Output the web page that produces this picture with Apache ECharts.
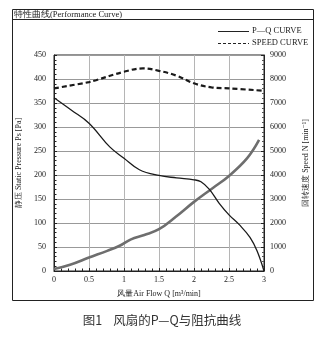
<!DOCTYPE html>
<html><head><meta charset="utf-8">
<script src="https://cdn.jsdelivr.net/npm/echarts@6/dist/echarts.min.js"></script>
<style>html,body{margin:0;padding:0;background:#fff}#c{width:324px;height:337px}</style>
</head><body><div id="c"></div>
<script>
const xTicks = [0, 0.5, 1, 1.5, 2, 2.5, 3];
const pqQ = [0, 0.25, 0.5, 0.8, 1.0, 1.22, 1.5, 1.75, 2.0, 2.1, 2.22, 2.36, 2.5, 2.65, 2.8, 2.9, 3.0];
const pqP = [361, 335, 308, 258, 235, 211, 199, 194, 190, 186, 170, 141, 117, 96, 70, 42, 0];
const speedQ = [0, 0.5, 0.6, 1.0, 1.27, 1.5, 1.75, 2.0, 2.25, 2.5, 3.0];
const speedN = [7610, 7870, 7950, 8300, 8440, 8340, 8140, 7820, 7650, 7610, 7510];
const resQ = [0, 0.23, 0.5, 0.76, 0.93, 1.1, 1.29, 1.5, 1.74, 2.0, 2.26, 2.5, 2.76, 2.93];
const resP = [4, 13, 28, 42, 52, 66, 75, 87, 113, 144, 172, 198, 235, 273];

const pair = (a, b) => a.map((v, i) => [v, b[i]]);
const serif = '"Liberation Serif","DejaVu Serif",serif';
const chart = echarts.init(document.getElementById('c'));
const lab = {color: '#222', fontFamily: serif, fontSize: 8};
chart.setOption({
  animation: false,
  grid: {left: 54, right: 60, top: 55, bottom: 66, show: true, borderColor: '#222', borderWidth: 1},
  xAxis: {
    type: 'value', min: 0, max: 3, interval: 0.5,
    name: '风量Air Flow Q [m³/min]', nameLocation: 'middle', nameGap: 19,
    nameTextStyle: {color: '#222', fontFamily: serif, fontSize: 8},
    axisLine: {lineStyle: {color: '#222'}},
    axisTick: {inside: true, length: 3, lineStyle: {color: '#222'}},
    minorTick: {show: true, splitNumber: 5, length: 2.5, lineStyle: {color: '#222'}},
    axisLabel: Object.assign({margin: 5, formatter: v => String(v)}, lab),
    splitLine: {show: true, lineStyle: {color: '#b5b5b5', width: 1}}
  },
  yAxis: [{
    type: 'value', min: 0, max: 450, interval: 50,
    name: '静压 Static Pressure Ps [Pa]', nameLocation: 'middle', nameGap: 30,
    nameTextStyle: {color: '#222', fontFamily: serif, fontSize: 8},
    axisLine: {show: true, lineStyle: {color: '#222'}},
    axisTick: {inside: true, length: 3, lineStyle: {color: '#222'}},
    minorTick: {show: true, splitNumber: 5, length: 2.5, lineStyle: {color: '#222'}},
    axisLabel: Object.assign({margin: 8}, lab),
    splitLine: {show: true, lineStyle: {color: '#999', width: 1}}
  }, {
    type: 'value', min: 0, max: 9000, interval: 1000, position: 'right',
    name: '回转速度 Speed N [min⁻¹]', nameLocation: 'middle', nameGap: 38, nameRotate: 90,
    nameTextStyle: {color: '#222', fontFamily: serif, fontSize: 8},
    axisLine: {show: true, lineStyle: {color: '#222'}},
    axisTick: {inside: true, length: 3, lineStyle: {color: '#222'}},
    minorTick: {show: true, splitNumber: 5, length: 2, lineStyle: {color: '#555'}},
    axisLabel: Object.assign({margin: 6, formatter: v => String(v)}, lab),
    splitLine: {show: false}
  }],
  series: [{
    type: 'line', name: 'Resistance', data: pair(resQ, resP), yAxisIndex: 0,
    smooth: 0.4, showSymbol: false, lineStyle: {color: '#6e6e6e', width: 2.6}
  }, {
    type: 'line', name: 'P-Q', data: pair(pqQ, pqP), yAxisIndex: 0,
    smooth: 0.4, showSymbol: false, lineStyle: {color: '#1a1a1a', width: 1.3}
  }, {
    type: 'line', name: 'Speed', data: pair(speedQ, speedN), yAxisIndex: 1,
    smooth: 0.4, showSymbol: false, lineStyle: {color: '#1a1a1a', width: 2.2, type: [5, 3]}
  }],
  graphic: [
    {type: 'rect', shape: {x: 12.5, y: 9.5, width: 301, height: 291}, style: {fill: 'none', stroke: '#222', lineWidth: 1}},
    {type: 'line', shape: {x1: 12.5, y1: 19.5, x2: 313.5, y2: 19.5}, style: {stroke: '#222', lineWidth: 1}},
    {type: 'text', left: 14, top: 10, style: {text: '特性曲线(Performance Curve)', fill: '#222', font: '8.5px ' + serif}},
    {type: 'line', shape: {x1: 218, y1: 31.5, x2: 249, y2: 31.5}, style: {stroke: '#222', lineWidth: 1}},
    {type: 'text', left: 252, top: 26, style: {text: 'P\u2014Q CURVE', fill: '#222', font: '8.5px ' + serif}},
    {type: 'line', shape: {x1: 218, y1: 43.5, x2: 249, y2: 43.5}, style: {stroke: '#222', lineWidth: 1, lineDash: [3, 2]}},
    {type: 'text', left: 252, top: 38, style: {text: 'SPEED CURVE', fill: '#222', font: '8.5px ' + serif}},
    {type: 'text', left: 'center', top: 314, style: {text: '图1    风扇的P—Q与阻抗曲线', fill: '#333', font: '12.5px "Noto Sans CJK SC", sans-serif'}}
  ]
});
</script></body></html>
